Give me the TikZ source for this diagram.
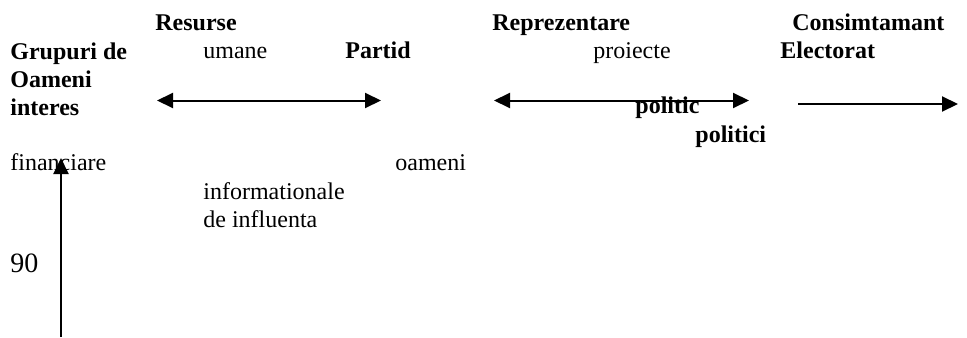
\documentclass[tikz,border=0pt]{standalone}
\usepackage{fontspec}
\setmainfont{Liberation Serif}
\usetikzlibrary{arrows.meta}

\begin{document}
\begin{tikzpicture}[x=0.5pt,y=-0.5pt]

\tikzset{txt/.style={anchor=base west,inner sep=0pt,font=\fontsize{12}{14}\selectfont},
  hd/.style={txt,font=\fontsize{12}{14}\selectfont\bfseries},
  flow/.style={line width=1pt,-{Triangle[length=8pt,width=7.5pt]}},
  both/.style={line width=1pt,{Triangle[length=8pt,width=7.5pt]}-{Triangle[length=8pt,width=7.5pt]}}}

  \useasboundingbox (0,0) rectangle (967,337);

  % bold headings
  \node[hd] (resurse) at (155,30) {Resurse};
  \node[hd] (grupuri) at (10,59) {Grupuri de};
  \node[hd] (oameni1) at (10,87) {Oameni};
  \node[hd] (interes) at (10,115) {interes};
  \node[hd] (partid) at (345,58) {Partid};
  \node[hd] (repr) at (492,30) {Reprezentare};
  \node[hd] (consimt) at (792,30) {Consimtamant};
  \node[hd] (electorat) at (780,58) {Electorat};
  \node[hd] (politic) at (635,113) {politic};
  \node[hd] (politici) at (695,142) {politici};

  % plain labels
  \node[txt] (umane) at (203,58) {umane};
  \node[txt] (proiecte) at (593,58) {proiecte};
  \node[txt] (financiare) at (10,170) {financiare};
  \node[txt] (oameni2) at (395,170) {oameni};
  \node[txt] (inform) at (203,199) {informationale};
  \node[txt] (influenta) at (203,227) {de influenta};
  \node[txt,font=\fontsize{14}{16}\selectfont] (nr) at (10,272) {90};

  % arrow ends
  \coordinate (a1) at (157,100.5);
  \coordinate (b1) at (381,100.5);
  \coordinate (a2) at (494,100.5);
  \coordinate (b2) at (749,100.5);
  \coordinate (a3) at (798,104);
  \coordinate (b3) at (958,104);
  \coordinate (a4) at (61,337);
  \coordinate (b4) at (61,158);

  \draw[both] (a1) -- (b1);
  \draw[both] (a2) -- (b2);
  \draw[flow] (a3) -- (b3);
  \draw[flow] (a4) -- (b4);

\end{tikzpicture}
\end{document}
